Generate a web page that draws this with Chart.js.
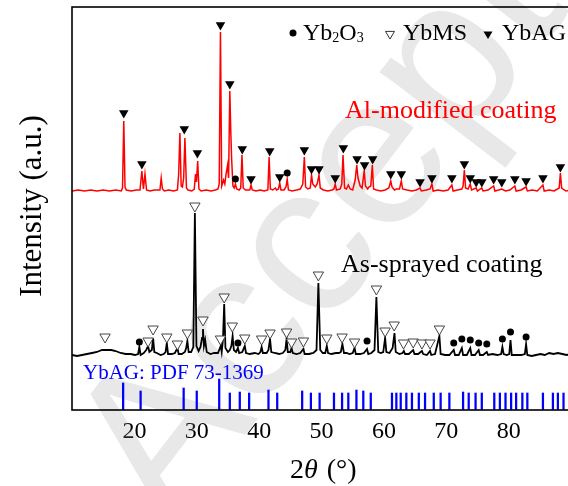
<!DOCTYPE html>
<html>
<head>
<meta charset="utf-8">
<script src="https://cdn.jsdelivr.net/npm/chart.js@4/dist/chart.umd.min.js"></script>
<style>
  html, body { margin: 0; padding: 0; background: #fff; overflow: hidden; }
  canvas { display: block; }
</style>
</head>
<body>
<canvas id="xrd" width="580" height="486"></canvas>
<script>
// ---- data: XRD patterns, [2θ (°), intensity (a.u., stacked)] ----
const xTickLabels = ['20', '30', '40', '50', '60', '70', '80'];

const alModified = [
  [10,219],[11,220],[12,219],[13,220],[14,219],[15,220],[16,219],[17,220],[17.9,219],
  [18.1,222],[18.3,289],[18.5,223],[18.7,220],
  [19.5,219],[20.3,220],[20.9,220],[21.2,239],[21.45,221],[21.7,236],[21.95,220],
  [22.5,219],[23.2,220],[24.1,220],[24.3,232],[24.5,221],[24.8,219],
  [25.5,220],[26.3,219],[26.9,220],[27.1,236],[27.3,277],[27.5,224],[27.7,223],[27.9,232],[28.1,272],[28.35,222],[28.6,220],
  [29.2,219],[29.6,221],[29.8,236],[29.95,228],[30.15,249],[30.35,221],[30.7,219],
  [31.5,220],[32.3,219],[33.0,220],[33.4,221],[33.6,226],[33.8,378],[34.0,224],[34.3,230],[34.5,226],[34.7,236],[34.95,245],[35.1,232],[35.3,319],[35.45,280],[35.6,250],[35.8,224],[36.0,222],[36.2,226],[36.4,221],[36.8,220],
  [37.05,222],[37.25,255],[37.45,222],[37.8,220],[38.5,220],[38.7,225],[38.9,220],
  [39.5,219],[40.2,220],[40.8,219],[41.4,220],[41.6,253],[41.8,221],[42.2,220],[42.6,222],[42.8,220],[43.1,221],[43.3,227],[43.5,220],
  [44.0,220],[44.3,223],[44.5,231],[44.7,220],[45.3,219],[46.0,220],[46.6,221],[47.0,226],[47.25,253],[47.45,223],[47.8,221],
  [48.2,222],[48.4,235],[48.6,226],[49.0,223],[49.3,226],[49.6,235],[49.8,222],[50.3,220],[51.0,219],[51.7,220],[52.0,221],[52.2,226],[52.4,220],
  [53.0,221],[53.25,226],[53.45,255],[53.7,222],[54.0,221],[54.3,225],[54.6,221],[55.0,220],[55.4,230],[55.65,245],[55.85,232],[56.2,224],[56.5,222],[56.85,239],[57.05,224],[57.4,221],[57.6,223],[57.9,224],[58.15,245],[58.35,221],
  [58.8,220],[59.5,219],[60.2,220],[60.8,222],[61.1,229],[61.3,223],[61.7,220],[62.0,221],[62.5,221],[62.8,229],[63.0,221],
  [63.7,220],[64.5,219],[65.2,220],[65.8,222],[66.0,219],[66.8,220],[67.4,221],[67.7,226],[67.9,219],
  [68.7,220],[69.5,219],[70.3,220],[70.9,225],[71.1,219],[71.8,220],[72.5,221],[72.7,224],[72.9,240],[73.1,222],[73.5,221],[73.85,226],[74.05,220],[74.8,222],[75.0,219],[75.7,222],[75.9,219],
  [76.7,220],[77.6,224],[77.8,219],[78.4,220],[78.9,221],[79.5,219],[80.2,220],[81.0,224],[81.2,219],[82.0,220],[82.8,223],[83.0,219],
  [83.8,220],[84.6,219],[85.5,225],[85.7,219],[86.5,220],[87.3,219],[88.1,222],[88.3,237],[88.5,222],[89.2,219],[90,220]
];

const asSprayed = [
  [10,55],[10.8,54],[11.6,55],[12.4,56],[13.2,57],[14,58],[14.8,60],[15.5,60],[16.3,60],[17,59],[17.8,57],[18.6,56],[19.4,56],[20.1,55],
  [20.6,56],[20.8,63],[21.0,55],[21.5,57],[21.9,60],[22.2,64],[22.4,58],[22.8,60],[23.0,72],[23.2,58],[23.6,57],[24.2,55],[24.7,56],[25.0,58],[25.2,67],[25.4,56],
  [26.0,56],[26.5,57],[26.9,62],[27.1,56],[27.6,56],[28.1,58],[28.3,62],[28.5,69],[28.7,58],[29.1,58],[29.45,63],[29.7,197],[29.95,64],[30.3,59],[30.6,63],[30.85,72],[31.0,81],[31.15,64],[31.35,70],[31.6,58],
  [32.2,56],[32.8,57],[33.4,57],[33.65,61],[33.85,64],[34.0,58],[34.2,70],[34.4,106],[34.6,62],[35.0,58],[35.3,60],[35.55,64],[35.75,74],[35.95,60],[36.3,58],[36.6,62],[36.8,57],[37.3,58],[37.7,64],[37.9,57],
  [38.5,56],[39.3,57],[39.9,56],[40.2,58],[40.4,63],[40.6,57],[41.2,57],[41.5,60],[41.75,71],[41.95,58],[42.5,57],[43.2,56],[43.8,57],[44.2,60],[44.4,71],[44.6,58],[45.0,58],[45.2,62],[45.4,57],
  [46.0,56],[46.6,57],[47.1,61],[47.3,56],[48.0,56],[48.7,57],[49.2,60],[49.5,127],[49.8,60],[50.2,57],[50.6,57],[50.85,64],[51.05,57],[51.6,56],[52.3,57],[52.8,57],[53.1,58],[53.35,66],[53.6,57],
  [54.0,57],[54.5,56],[55.0,57],[55.3,62],[55.5,56],[56.2,56],[56.8,57],[57.3,61],[57.5,56],[58.0,57],[58.5,60],[58.8,113],[59.1,58],[59.5,57],[59.9,58],[60.2,72],[60.4,58],[60.9,57],[61.4,62],[61.7,77],[61.9,58],
  [62.5,56],[63.0,57],[63.2,59],[63.4,56],[64.0,56],[64.7,60],[64.9,56],[65.5,56],[66.1,59],[66.3,56],[66.9,55],[67.4,59],[67.6,55],[68.2,56],[68.9,74],[69.1,56],
  [69.8,55],[70.5,55],[71.2,60],[71.4,55],[72.0,55],[72.5,62],[72.7,55],[73.3,55],[73.85,62],[74.05,55],[74.6,55],[75.2,60],[75.4,55],[75.9,55],[76.5,58],[76.7,55],
  [77.4,56],[78.2,55],[78.8,56],[79.0,63],[79.2,56],[79.7,55],[80.1,56],[80.3,70],[80.5,55],[81.2,55],[82.0,55],[82.6,56],[82.8,66],[83.0,55],
  [83.7,54],[84.4,55],[85.1,56],[85.8,55],[86.5,57],[87.2,56],[87.9,57],[88.6,56],[89.3,55],[90,56]
];

// phase markers [2θ, marker height]
const ybagMarks = [
  [18.3,297],[21.2,246],[28.0,281],[30.1,257],[33.8,385],[35.3,326],[37.3,261],[38.7,231],[41.7,259],[43.3,233],
  [47.25,260],[48.4,241],[49.6,241],[52.2,232],[53.5,262],[55.7,251],[56.9,245],[58.2,251],[61.1,236],[62.8,236],
  [65.8,228],[67.7,232],[70.9,232],[72.9,246],[73.85,232],[74.8,228],[75.7,228],[77.6,231],[78.9,228],[81.0,231],
  [82.8,229],[85.5,232],[88.3,243]
];
const yb2o3MarksAl = [[36.2,231],[44.5,237]];
const ybmsMarks = [
  [15.3,73],[22.2,69],[23.0,81],[25.2,73],[26.9,66],[28.5,77],[29.7,204],[31.0,90],[33.8,71],[34.4,113],
  [35.7,84],[37.7,72],[40.4,71],[41.75,77],[44.4,78],[45.2,68],[47.1,69],[49.5,135],[50.85,72],[53.3,73],
  [55.3,68],[58.8,121],[60.2,79],[61.65,85],[63.15,67],[64.7,68],[66.1,67],[67.4,67],[68.9,81]
];
const yb2o3MarksAs = [
  [20.8,68],[36.6,67],[57.3,69],[71.2,67],[72.5,71],[73.85,70],[75.2,67],[76.5,66],[79.0,71],[80.3,78],[82.8,73]
];

// YbAG reference pattern (PDF 73-1369): positions and relative stick heights
const pdfPos = [18.2,21.0,27.9,30.0,33.6,35.3,36.9,38.4,41.5,42.9,46.9,48.3,49.7,52.0,53.3,54.3,55.6,56.7,57.9,
  61.3,62.0,62.7,63.6,64.5,65.6,66.6,68.0,69.1,70.5,72.7,73.6,74.7,75.7,77.7,78.6,79.5,80.4,81.2,82.2,83.0,85.5,87.1,87.9,88.8];
const pdfInt = [27,19,22,19,31,17,18,17,20,17,19,17,17,17,17,17,20,19,17,
  17,17,17,17,17,17,17,17,17,17,18,17,17,17,17,17,17,17,17,17,17,17,17,17,17];

const legendNames = ['Yb', 'O', 'YbMS', 'YbAG'];
const curveNames = ['Al-modified coating', 'As-sprayed coating', 'YbAG: PDF 73-1369'];

const SERIF = '"Liberation Serif", "Times New Roman", serif';
const pts = arr => arr.map(p => ({ x: p[0], y: p[1] }));

// ---- extra drawing: watermark, frame, labels, legend ----
function downTri(ctx, x, y, r, filled) {
  ctx.beginPath();
  ctx.moveTo(x - r, y - r * 0.8);
  ctx.lineTo(x + r, y - r * 0.8);
  ctx.lineTo(x, y + r * 0.9);
  ctx.closePath();
  if (filled) { ctx.fillStyle = '#000'; ctx.fill(); }
  else { ctx.fillStyle = '#fff'; ctx.fill(); ctx.strokeStyle = '#333'; ctx.lineWidth = 1; ctx.stroke(); }
}
function runText(ctx, s, x, y, size) {
  ctx.font = size + 'px ' + SERIF;
  ctx.fillText(s, x, y);
  return x + ctx.measureText(s).width;
}

const decor = {
  id: 'decor',
  beforeDatasetsDraw(chart) {
    const ctx = chart.ctx;
    ctx.save();
    ctx.translate(171, 532);
    ctx.rotate(-52.6 * Math.PI / 180);
    ctx.font = '215px "Liberation Sans", Arial, sans-serif';
    ctx.fillStyle = 'rgba(150,150,150,0.22)';
    ctx.textBaseline = 'alphabetic';
    ctx.fillText('Accepted', 0, 0);
    ctx.restore();
  },
  afterDraw(chart) {
    const ctx = chart.ctx;
    const a = chart.chartArea;
    ctx.save();
    // frame
    ctx.strokeStyle = '#000';
    ctx.lineWidth = 1.6;
    ctx.strokeRect(a.left, a.top, a.right - a.left, a.bottom - a.top);

    ctx.textBaseline = 'alphabetic';
    ctx.textAlign = 'left';
    // curve labels
    ctx.fillStyle = '#ff0000';
    runText(ctx, curveNames[0], 345, 118, 26);
    ctx.fillStyle = '#000';
    runText(ctx, curveNames[1], 341, 272, 26);
    ctx.fillStyle = '#0000ff';
    runText(ctx, curveNames[2], 83, 379, 21);

    // legend
    ctx.fillStyle = '#000';
    ctx.beginPath(); ctx.arc(293, 33, 3.5, 0, 2 * Math.PI); ctx.fill();
    let x = 303;
    x = runText(ctx, legendNames[0], x, 40, 24);
    x = runText(ctx, '2', x, 42, 14);
    x = runText(ctx, legendNames[1], x, 40, 24);
    runText(ctx, '3', x, 42, 14);
    downTri(ctx, 390, 35, 4.5, false);
    ctx.fillStyle = '#000';
    runText(ctx, legendNames[2], 403, 40, 24);
    downTri(ctx, 488, 35, 4.5, true);
    ctx.fillStyle = '#000';
    runText(ctx, legendNames[3], 502, 40, 24);

    // x-axis title: 2θ (°)
    ctx.fillStyle = '#000';
    x = 290;
    x = runText(ctx, '2', x, 478, 28);
    ctx.font = 'italic 28px ' + SERIF;
    ctx.fillText('θ', x, 478);
    x += ctx.measureText('θ').width + 9;
    runText(ctx, '(°)', x, 478, 28);

    // y-axis title
    ctx.translate(41, 206);
    ctx.rotate(-Math.PI / 2);
    ctx.textAlign = 'center';
    ctx.font = '31px ' + SERIF;
    ctx.fillText('Intensity (a.u.)', 0, 0);
    ctx.restore();
  }
};

const triStyle = { pointStyle: 'triangle', rotation: 180 };

new Chart(document.getElementById('xrd'), {
  type: 'line',
  data: {
    datasets: [
      { label: 'YbAG', type: 'scatter', data: pts(ybagMarks), ...triStyle, pointRadius: 5.5,
        backgroundColor: '#000', borderColor: '#000', borderWidth: 0, order: 0 },
      { label: 'Yb2O3 (Al)', type: 'scatter', data: pts(yb2o3MarksAl), pointStyle: 'circle', pointRadius: 3.5,
        backgroundColor: '#000', borderColor: '#000', borderWidth: 0, order: 0 },
      { label: 'YbMS', type: 'scatter', data: pts(ybmsMarks), ...triStyle, pointRadius: 6,
        backgroundColor: '#fff', borderColor: '#444', borderWidth: 1, order: 0 },
      { label: 'Yb2O3 (as)', type: 'scatter', data: pts(yb2o3MarksAs), pointStyle: 'circle', pointRadius: 3.5,
        backgroundColor: '#000', borderColor: '#000', borderWidth: 0, order: 0 },
      { label: 'Al-modified', data: pts(alModified), borderColor: '#ff0000', borderWidth: 1.5,
        pointRadius: 0, tension: 0, fill: false, order: 1 },
      { label: 'As-sprayed', data: pts(asSprayed), borderColor: '#000', borderWidth: 1.8,
        pointRadius: 0, tension: 0, fill: false, order: 1 },
      { label: 'PDF', type: 'bar', data: pdfPos.map((p, i) => ({ x: p, y: pdfInt[i] })),
        backgroundColor: '#0000ff', barThickness: 1.6, grouped: false, order: 2 }
    ]
  },
  options: {
    responsive: false,
    animation: false,
    events: [],
    layout: { padding: { left: 72, right: 9, top: 7, bottom: 0 } },
    plugins: { legend: { display: false }, tooltip: { enabled: false } },
    scales: {
      x: {
        type: 'linear', min: 10, max: 90, offset: false,
        grid: { display: false, drawTicks: false, offset: false },
        border: { display: false },
        afterBuildTicks(scale) { scale.ticks = xTickLabels.map(v => ({ value: Number(v) })); },
        afterFit(scale) { scale.height = 76; },
        ticks: { color: '#000', padding: 7, maxRotation: 0, autoSkip: false,
                 font: { family: SERIF, size: 24 },
                 callback: v => String(v) }
      },
      y: {
        type: 'linear', min: 0, max: 403, display: false
      }
    }
  },
  plugins: [decor]
});
</script>
</body>
</html>
